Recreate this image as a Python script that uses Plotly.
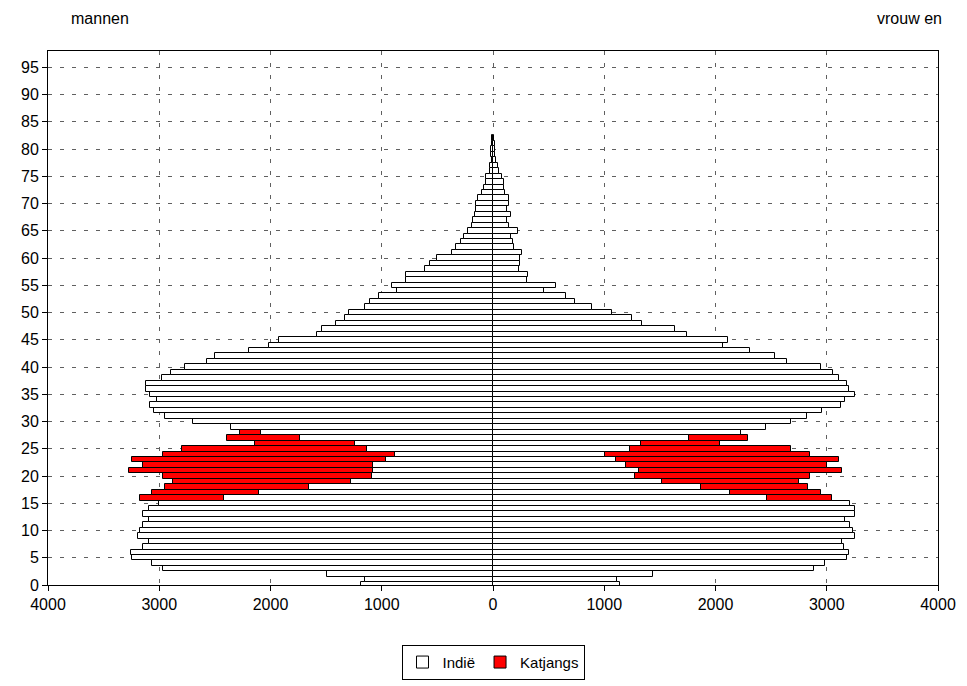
import plotly.graph_objects as go

ages = list(range(0, 83))

# Indië (white) - men, ages 0..82
indie_men = [1187, 1151, 1492, 2969, 3065, 3241, 3256, 3145, 3094, 3190,
             3175, 3145, 3094, 3145, 3094, 3001, 2419, 2099, 1650, 1277,
             1088, 1076, 1076, 962, 879, 1136, 1238, 1731, 2083, 2359,
             2697, 2951, 3049, 3085, 3020, 3085, 3115, 3115, 2973, 2891,
             2771, 2568, 2502, 2197, 2018, 1925, 1584, 1536, 1411, 1327,
             1297, 1151, 1103, 1028, 864, 912, 783, 783, 610, 565,
             499, 365, 329, 290, 260, 221, 191, 177, 161, 155,
             155, 131, 96, 81, 66, 60, 30, 27, 12, 21,
             15, 6, 6]

# Indië (white) - women, ages 0..82
indie_women = [1140, 1118, 1438, 2885, 2980, 3184, 3204, 3154, 3139, 3252,
               3235, 3213, 3168, 3252, 3252, 3213, 2463, 2130, 1870, 1518,
               1279, 1312, 1199, 1104, 1005, 1235, 1328, 1760, 2228, 2452,
               2676, 2819, 2960, 3124, 3168, 3252, 3204, 3184, 3109, 3060,
               2945, 2640, 2533, 2309, 2067, 2115, 1745, 1637, 1342, 1250,
               1073, 894, 737, 656, 462, 563, 304, 319, 235, 244,
               244, 259, 190, 178, 164, 223, 140, 125, 164, 125,
               146, 146, 110, 101, 95, 80, 50, 44, 26, 20,
               14, 14, 8]

# Katjangs (red), ages 16..28
katjang_ages = list(range(16, 29))
katjangs_men = [756, 966, 1301, 1599, 1878, 2194, 2069, 2279, 2087, 1656, 897, 661, 195]
katjangs_women = [580, 815, 964, 1233, 1570, 1827, 1805, 2005, 1844, 1441, 716, 528, 0]

x_ticks = [-4000, -3000, -2000, -1000, 0, 1000, 2000, 3000, 4000]
x_ticktext = ["4000", "3000", "2000", "1000", "0", "1000", "2000", "3000", "4000"]

line = dict(color="black", width=1)

fig = go.Figure()
fig.add_trace(go.Bar(y=ages, x=[-v for v in indie_men], orientation="h", name="Indië",
                     marker=dict(color="white", line=line), legendgroup="i", width=1))
fig.add_trace(go.Bar(y=ages, x=indie_women, orientation="h", name="Indië",
                     marker=dict(color="white", line=line), legendgroup="i", showlegend=False, width=1))
fig.add_trace(go.Bar(y=katjang_ages, x=[-v for v in katjangs_men], orientation="h", name="Katjangs",
                     marker=dict(color="#FF0000", line=line), legendgroup="k", width=1))
fig.add_trace(go.Bar(y=katjang_ages, x=katjangs_women, orientation="h", name="Katjangs",
                     marker=dict(color="#FF0000", line=line), legendgroup="k", showlegend=False, width=1))

fig.update_layout(
    width=967, height=686,
    barmode="relative", bargap=0,
    paper_bgcolor="white", plot_bgcolor="white",
    margin=dict(l=48, r=29, t=51, b=101, autoexpand=False),
    font=dict(family="Liberation Sans, Arial, sans-serif", size=16, color="black"),
    showlegend=True,
    legend=dict(orientation="h", x=0.5, xanchor="center", y=-0.112, yanchor="top",
                bordercolor="black", borderwidth=1, bgcolor="white",
                itemwidth=30, font=dict(size=15), traceorder="normal"),
    annotations=[
        dict(text="mannen", xref="paper", yref="paper", x=0.024, y=1.06,
             xanchor="left", yanchor="middle", showarrow=False, font=dict(size=16)),
        dict(text="vrouw en", xref="paper", yref="paper", x=1.007, y=1.06,
             xanchor="right", yanchor="middle", showarrow=False, font=dict(size=16)),
    ],
)

fig.update_xaxes(range=[-4000, 4000], tickvals=x_ticks, ticktext=x_ticktext,
                 showgrid=True, gridcolor="#606060", griddash="4px,8px", gridwidth=1,
                 zeroline=False, automargin=False,
                 showline=True, linecolor="black", linewidth=1, mirror=True,
                 ticks="outside", ticklen=5, tickcolor="black", tickfont=dict(size=16),
                 fixedrange=True)
fig.update_yaxes(range=[0, 98], tick0=0, dtick=5,
                 showgrid=True, gridcolor="#606060", griddash="4px,8px", gridwidth=1,
                 zeroline=False, automargin=False,
                 showline=True, linecolor="black", linewidth=1, mirror=True,
                 ticks="outside", ticklen=5, tickcolor="black", tickfont=dict(size=16),
                 fixedrange=True)

fig.write_html("out.html", config={"displayModeBar": False},
               post_script="document.body.style.margin='0px';")
